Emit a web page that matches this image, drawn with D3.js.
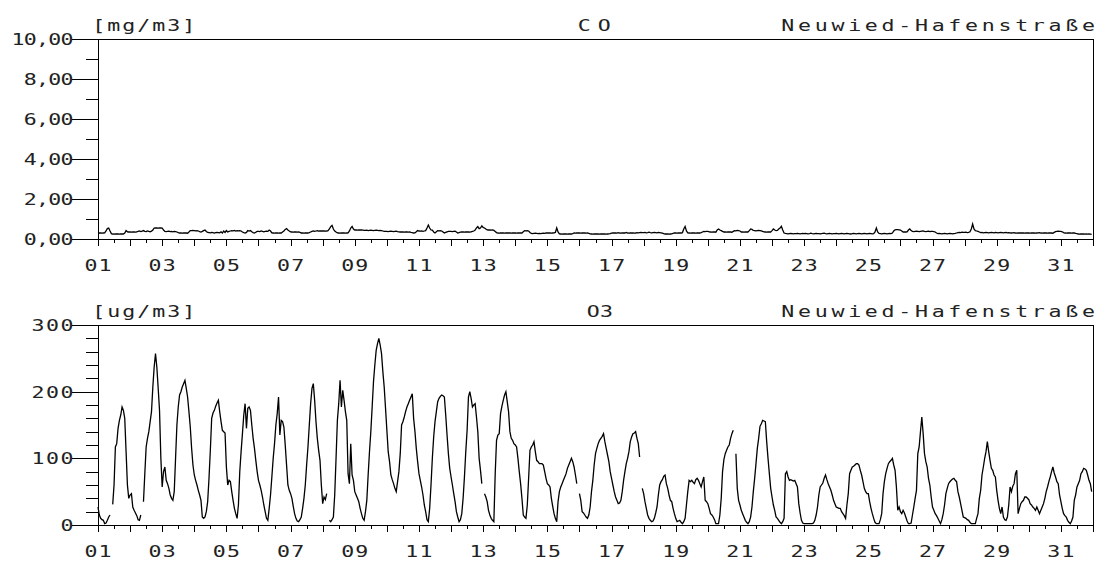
<!DOCTYPE html>
<html><head><meta charset="utf-8">
<script src="https://cdn.jsdelivr.net/npm/d3@7"></script>
<style>
html,body{margin:0;padding:0;background:#fff;}
svg{display:block;}
text{font-family:"DejaVu Sans Mono",monospace;font-size:16px;fill:#222;}
</style></head><body>
<svg id="c" width="1101" height="566"></svg>
<script>
// ---------- DATA ----------
const station = "Neuwied-Hafenstraße";
const coTitle = "CO", coUnit = "[mg/m3]";
const o3Title = "O3", o3Unit = "[ug/m3]";
const dayLabelDays = [1,3,5,7,9,11,13,15,17,19,21,23,25,27,29,31];
const dayLabels = ["01","03","05","07","09","11","13","15","17","19","21","23","25","27","29","31"];
const coMajorTicks = [0,2,4,6,8,10];
const coMajorLabels = ["0,00","2,00","4,00","6,00","8,00","10,00"];
const coMinorTicks = [1,3,5,7,9];
const o3MajorTicks = [0,100,200,300];
const o3MajorLabels = ["0","100","200","300"];
const o3MinorTicks = [20,40,60,80,120,140,160,180,220,240,260,280];

// hourly CO [mg/m3], one row per day
const coHourly = [
0.30,0.31,0.30,0.29,0.30,0.31,0.40,0.52,0.55,0.40,0.27,0.25,0.24,0.25,0.26,0.25,0.24,0.25,0.26,0.25,0.30,0.42,0.36,0.35,
0.35,0.34,0.36,0.35,0.34,0.36,0.38,0.40,0.37,0.39,0.42,0.38,0.37,0.40,0.38,0.36,0.39,0.45,0.55,0.56,0.55,0.54,0.55,0.56,
0.55,0.45,0.38,0.37,0.38,0.39,0.37,0.38,0.36,0.38,0.37,0.35,0.32,0.30,0.30,0.29,0.30,0.31,0.30,0.29,0.35,0.42,0.42,0.43,
0.42,0.41,0.42,0.40,0.37,0.35,0.38,0.42,0.45,0.38,0.33,0.32,0.31,0.33,0.32,0.30,0.32,0.33,0.32,0.31,0.36,0.30,0.40,0.33,
0.42,0.35,0.38,0.40,0.42,0.41,0.43,0.40,0.42,0.41,0.42,0.40,0.35,0.32,0.30,0.33,0.42,0.40,0.42,0.36,0.32,0.30,0.34,0.38,
0.38,0.37,0.40,0.38,0.36,0.38,0.39,0.38,0.45,0.40,0.31,0.30,0.29,0.30,0.30,0.29,0.31,0.30,0.35,0.40,0.48,0.52,0.45,0.40,
0.36,0.35,0.34,0.36,0.35,0.34,0.35,0.33,0.30,0.31,0.29,0.30,0.31,0.30,0.32,0.35,0.38,0.40,0.38,0.40,0.42,0.39,0.40,0.41,
0.40,0.41,0.39,0.40,0.42,0.50,0.62,0.68,0.50,0.40,0.35,0.31,0.30,0.29,0.30,0.31,0.30,0.29,0.30,0.31,0.40,0.55,0.63,0.50,
0.45,0.46,0.44,0.45,0.46,0.45,0.44,0.43,0.43,0.44,0.42,0.43,0.44,0.43,0.42,0.43,0.44,0.43,0.42,0.43,0.42,0.40,0.38,0.38,
0.38,0.37,0.38,0.39,0.38,0.37,0.38,0.39,0.37,0.36,0.35,0.35,0.36,0.34,0.35,0.36,0.34,0.35,0.33,0.32,0.30,0.31,0.36,0.42,
0.40,0.39,0.40,0.38,0.40,0.42,0.55,0.70,0.55,0.45,0.44,0.35,0.30,0.36,0.42,0.41,0.42,0.40,0.35,0.30,0.33,0.36,0.38,0.38,
0.38,0.37,0.38,0.39,0.35,0.30,0.32,0.34,0.35,0.36,0.34,0.35,0.36,0.35,0.34,0.36,0.38,0.40,0.45,0.55,0.62,0.52,0.55,0.66,
0.58,0.55,0.50,0.46,0.45,0.46,0.44,0.45,0.43,0.38,0.32,0.30,0.29,0.30,0.31,0.30,0.29,0.30,0.30,0.31,0.30,0.29,0.30,0.31,
0.30,0.29,0.30,0.31,0.30,0.30,0.36,0.42,0.41,0.42,0.40,0.33,0.28,0.27,0.28,0.29,0.28,0.27,0.28,0.27,0.28,0.29,0.28,0.30,
0.30,0.31,0.30,0.29,0.30,0.31,0.33,0.55,0.35,0.26,0.25,0.24,0.25,0.26,0.25,0.24,0.25,0.26,0.25,0.27,0.30,0.29,0.30,0.31,
0.30,0.29,0.30,0.31,0.30,0.29,0.30,0.28,0.26,0.25,0.24,0.25,0.25,0.26,0.25,0.24,0.25,0.25,0.26,0.25,0.24,0.25,0.26,0.27,
0.29,0.30,0.31,0.30,0.29,0.32,0.30,0.29,0.30,0.31,0.30,0.33,0.30,0.29,0.30,0.31,0.30,0.29,0.30,0.32,0.31,0.32,0.33,0.32,
0.32,0.33,0.31,0.32,0.34,0.32,0.31,0.32,0.33,0.32,0.31,0.33,0.32,0.31,0.29,0.27,0.25,0.26,0.25,0.24,0.25,0.26,0.28,0.30,
0.30,0.29,0.30,0.31,0.30,0.32,0.50,0.63,0.40,0.31,0.30,0.29,0.30,0.31,0.30,0.29,0.30,0.31,0.30,0.32,0.35,0.38,0.37,0.38,
0.38,0.36,0.35,0.34,0.35,0.36,0.34,0.45,0.50,0.45,0.42,0.38,0.35,0.36,0.34,0.35,0.36,0.35,0.34,0.38,0.42,0.41,0.43,0.42,
0.40,0.35,0.36,0.34,0.35,0.36,0.35,0.42,0.50,0.48,0.43,0.42,0.41,0.42,0.43,0.42,0.41,0.38,0.36,0.35,0.34,0.35,0.36,0.35,
0.42,0.50,0.45,0.42,0.43,0.50,0.55,0.63,0.45,0.30,0.28,0.27,0.26,0.27,0.28,0.27,0.26,0.27,0.27,0.28,0.27,0.26,0.27,0.28,
0.27,0.28,0.27,0.26,0.27,0.29,0.27,0.26,0.27,0.28,0.27,0.27,0.26,0.27,0.28,0.29,0.27,0.26,0.27,0.28,0.27,0.26,0.27,0.27,
0.28,0.27,0.26,0.27,0.28,0.27,0.26,0.27,0.28,0.27,0.26,0.25,0.27,0.28,0.27,0.26,0.27,0.28,0.27,0.26,0.27,0.28,0.27,0.26,
0.27,0.28,0.27,0.26,0.27,0.35,0.55,0.35,0.28,0.27,0.26,0.27,0.28,0.27,0.26,0.27,0.28,0.27,0.30,0.40,0.46,0.47,0.47,0.46,
0.45,0.40,0.35,0.36,0.35,0.36,0.45,0.50,0.42,0.38,0.37,0.38,0.39,0.38,0.37,0.38,0.39,0.40,0.38,0.37,0.38,0.39,0.37,0.38,
0.38,0.37,0.35,0.30,0.27,0.28,0.27,0.26,0.27,0.28,0.27,0.26,0.27,0.28,0.27,0.26,0.27,0.28,0.30,0.32,0.33,0.32,0.34,0.33,
0.33,0.34,0.32,0.33,0.36,0.50,0.75,0.50,0.42,0.40,0.38,0.35,0.32,0.33,0.31,0.32,0.33,0.32,0.31,0.32,0.33,0.32,0.31,0.33,
0.32,0.31,0.32,0.33,0.32,0.31,0.32,0.33,0.31,0.32,0.31,0.30,0.31,0.32,0.30,0.29,0.30,0.31,0.30,0.31,0.30,0.29,0.31,0.30,
0.30,0.29,0.30,0.31,0.30,0.29,0.30,0.31,0.32,0.30,0.29,0.30,0.31,0.30,0.29,0.30,0.31,0.30,0.29,0.33,0.37,0.38,0.39,0.38,
0.38,0.36,0.32,0.30,0.29,0.30,0.31,0.30,0.29,0.30,0.31,0.28,0.27,0.25,0.24,0.25,0.26,0.25,0.24,0.25,0.24,0.25,0.24,0.23
];

// hourly O3 [ug/m3], one row per day, null = missing
const o3Hourly = [
27,15,10,8,7,2,3,7,12,15,null,31,60,117,122,145,157,165,177,172,160,110,60,40,
45,47,27,22,18,14,8,7,15,null,35,77,117,130,140,155,170,207,237,257,237,205,172,100,
57,80,87,67,62,55,45,40,37,50,100,150,177,195,200,207,212,217,205,192,170,147,115,90,
75,67,60,52,45,37,12,10,12,20,35,70,112,160,168,172,178,183,187,170,155,142,140,138,
87,60,67,65,50,37,25,17,10,30,80,110,137,165,182,145,175,177,172,150,130,115,97,80,
67,60,52,42,30,20,10,7,25,45,72,100,122,150,167,192,135,157,155,147,120,90,60,52,
47,40,28,17,10,6,5,8,12,25,40,60,90,117,150,182,205,212,187,155,130,112,97,60,
32,42,38,47,null,7,5,8,12,45,100,157,182,217,177,202,187,170,157,77,62,122,75,67,
50,45,40,35,25,17,10,7,20,37,75,110,140,177,215,240,262,272,280,270,257,230,207,175,
142,110,95,75,68,62,55,50,65,80,107,150,155,162,170,177,182,187,192,197,160,140,115,95,
77,67,57,45,30,20,8,5,25,60,100,132,155,170,185,190,193,195,194,192,165,135,107,85,
72,60,47,35,20,12,5,8,17,40,72,110,142,192,200,190,177,180,182,162,140,100,82,62,
null,47,42,35,22,15,10,7,5,77,127,135,137,167,178,187,195,200,185,170,140,130,127,122,
120,117,100,80,62,40,15,12,10,30,70,112,117,120,125,110,97,95,92,92,92,90,80,70,
62,60,57,40,28,17,10,5,35,50,57,62,67,72,77,85,90,95,100,95,87,75,62,null,
47,37,20,18,15,12,10,15,27,50,67,90,107,115,122,127,130,133,137,125,115,105,95,80,
70,60,50,42,37,32,33,37,50,67,80,92,100,110,125,132,137,138,140,130,122,102,null,55,
47,35,25,15,10,7,5,6,10,18,27,45,60,65,68,73,75,62,55,45,37,35,25,17,
10,5,6,7,4,2,5,10,30,50,67,65,67,64,62,68,70,67,62,57,65,72,37,35,
32,25,17,15,12,8,2,2,2,15,40,80,98,107,112,117,120,130,137,142,null,107,55,37,
30,22,17,12,7,4,2,5,12,27,50,70,92,115,130,148,152,157,156,155,125,100,77,55,
42,30,22,12,10,7,4,2,5,10,77,80,72,67,68,67,66,67,62,57,32,18,7,3,
2,2,2,2,2,2,2,3,7,15,27,45,57,60,63,70,75,68,62,57,52,45,37,32,
27,26,25,25,20,17,14,10,30,47,77,82,87,88,90,92,92,90,82,75,65,55,50,47,
47,35,25,17,10,4,2,2,2,8,17,47,65,77,85,92,95,97,100,90,82,57,22,27,
20,17,22,18,12,6,2,2,3,15,27,40,52,107,117,140,162,137,107,95,87,70,60,42,
27,22,17,14,10,6,2,8,17,30,47,55,62,65,67,69,70,67,65,50,42,32,22,12,
11,10,8,7,4,2,2,2,2,10,17,40,52,75,87,100,110,125,110,97,85,82,75,72,
52,37,25,17,27,12,8,7,12,30,57,50,58,62,77,82,17,25,32,35,37,42,42,40,
38,32,30,27,25,22,27,22,17,22,27,32,40,50,57,65,72,80,87,78,72,65,62,45,
35,25,17,14,12,7,4,2,6,12,37,45,57,62,67,77,80,85,84,82,75,67,62,50
];

// ---------- DRAW ----------
const svg = d3.select("#c");
const left = 98, right = 1093;
const x = d3.scaleLinear().domain([1, 32]).range([left, right]);
const dayTickVals = d3.range(1, 33, 1);
const halfTickVals = d3.range(1.5, 32, 1);

// text helper: horizontally stretched monospace glyphs with a given advance
const SX = 1.35, BASE_ADV = 9.63, CELL = BASE_ADV * SX;
function addText(txt, pos, yPos, adv, anchor) {
  const n = txt.length;
  const inkW = (n - 1) * adv + 0.75 * CELL;
  let start;
  if (anchor === "end") start = pos - inkW - 0.125 * CELL;
  else if (anchor === "middle") start = pos - inkW / 2 - 0.125 * CELL;
  else start = pos - 0.125 * CELL;
  return svg.append("text")
    .attr("transform", `translate(${start},${yPos}) scale(${SX},1)`)
    .attr("x", 0).attr("y", 0)
    .style("letter-spacing", (adv / SX - BASE_ADV) + "px")
    .text(txt);
}

function panel(cfg) {
  const y = d3.scaleLinear().domain(cfg.domain).range([cfg.bottom, cfg.top]);
  const g = svg.append("g").attr("shape-rendering", "crispEdges");

  const ax1 = g.append("g").attr("transform", `translate(0,${cfg.bottom})`)
    .call(d3.axisBottom(x).tickValues(dayTickVals).tickSize(7).tickFormat(""));
  const ax2 = g.append("g").attr("transform", `translate(0,${cfg.bottom})`)
    .call(d3.axisBottom(x).tickValues(halfTickVals).tickSize(4).tickFormat(""));
  const ay1 = g.append("g").attr("transform", `translate(${left},0)`)
    .call(d3.axisLeft(y).tickValues(cfg.major).tickSize(26).tickFormat(""));
  const ay2 = g.append("g").attr("transform", `translate(${left},0)`)
    .call(d3.axisLeft(y).tickValues(cfg.minor).tickSize(12).tickFormat(""));
  [ax1, ax2, ay1, ay2].forEach(a => {
    a.select(".domain").remove();
    a.selectAll("line").attr("stroke", "#000").attr("stroke-width", 1);
  });

  g.append("rect")
    .attr("x", left).attr("y", cfg.top)
    .attr("width", right - left).attr("height", cfg.bottom - cfg.top)
    .attr("fill", "none").attr("stroke", "#000").attr("stroke-width", 1);

  const line = d3.line()
    .defined(d => d != null)
    .x((d, i) => x(1 + i / 24))
    .y(d => y(d));
  svg.append("path")
    .datum(cfg.data)
    .attr("d", line)
    .attr("fill", "none")
    .attr("stroke", "#000")
    .attr("stroke-width", 1.3)
    .attr("stroke-linejoin", "miter");

  cfg.major.forEach((v, i) => {
    addText(cfg.labels[i], 72, y(v) + 5.9, cfg.yadv, "end");
  });
  dayLabelDays.forEach((d, i) => {
    addText(dayLabels[i], x(d), cfg.bottom + 31.7, 14.2, "middle");
  });
  addText(cfg.unit, 94, cfg.headY, 15, "start");
  addText(cfg.title, cfg.titleX, cfg.headY, cfg.titleAdv, "start");
  addText(station, 783, cfg.headY, 16.7, "start");
}

panel({
  domain: [0, 10], top: 39, bottom: 239,
  major: coMajorTicks, minor: coMinorTicks, labels: coMajorLabels, yadv: 12.3,
  data: coHourly, unit: coUnit, title: coTitle, titleX: 579.3, titleAdv: 20, headY: 31
});
panel({
  domain: [0, 300], top: 325, bottom: 525,
  major: o3MajorTicks, minor: o3MinorTicks, labels: o3MajorLabels, yadv: 14.5,
  data: o3Hourly, unit: o3Unit, title: o3Title, titleX: 588.3, titleAdv: 13.3, headY: 316.5
});
</script>
</body></html>
